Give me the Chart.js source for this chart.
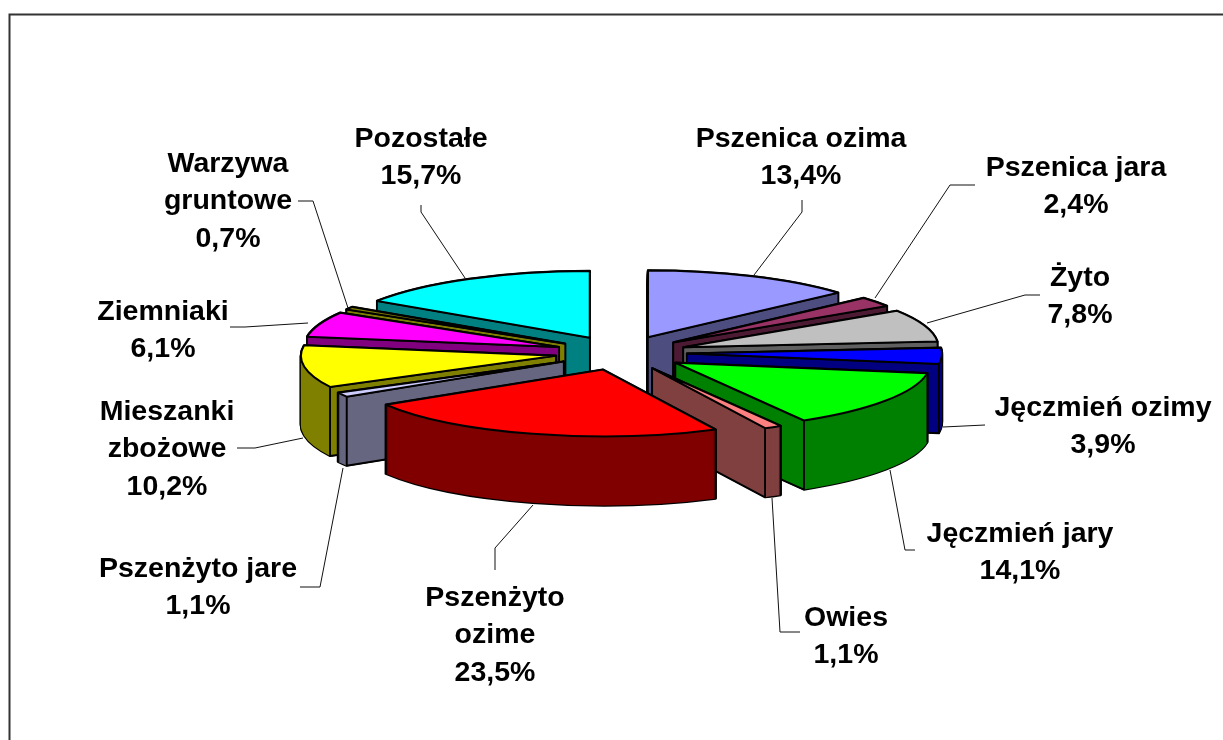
<!DOCTYPE html>
<html><head><meta charset="utf-8">
<style>html,body{margin:0;padding:0;background:#fff}#wrap{position:absolute;left:0;top:0;width:1223px;height:740px}</style>
<script src="https://cdn.jsdelivr.net/npm/chart.js@4"></script>
</head><body><div id="wrap"><canvas id="c" width="1223" height="740"></canvas></div>
<script>
const categories = ['Pszenica ozima','Pszenica jara','Żyto','Jęczmień ozimy','Jęczmień jary','Owies','Pszenżyto ozime','Pszenżyto jare','Mieszanki zbożowe','Ziemniaki','Warzywa gruntowe','Pozostałe'];
const shares = [13.4,2.4,7.8,3.9,14.1,1.1,23.5,1.1,10.2,6.1,0.7,15.7];
const topColors = ['#9999FF','#993366','#C0C0C0','#0000FF','#00FF00','#FF8080','#FF0000','#CCCCFF','#FFFF00','#FF00FF','#808000','#00FFFF'];
const sideColors = ['#4D4D80','#4D1A33','#606060','#000080','#008000','#804040','#800000','#666680','#808000','#800080','#808000','#008080'];

// Label layout: text lines, centre x, line centre y's, leader polyline
const labelLines = [['Pszenica ozima'],['Pszenica jara'],['Żyto'],['Jęczmień ozimy'],['Jęczmień jary'],['Owies'],['Pszenżyto','ozime'],['Pszenżyto jare'],['Mieszanki','zbożowe'],['Ziemniaki'],['Warzywa','gruntowe'],['Pozostałe']];
const labelX = [801,1076,1080,1103,1020,846,495,198,167,163,228,421];
const labelY = [139,168,278,408,534,618,598,569,412,312,164,139];
const leaders = [
 [[802,200],[802,212],[754,275]],
 [[975,185],[950,185],[875,298]],
 [[1040,295],[1025,295],[927,323]],
 [[985,425],[943,427]],
 [[915,550],[905,550],[890,470]],
 [[800,632],[780,632],[772,498]],
 [[495,570],[495,548],[533,505]],
 [[300,587],[320,587],[343,468]],
 [[237,448],[255,448],[303,438]],
 [[230,327],[245,327],[308,323]],
 [[298,201],[313,201],[348,308]],
 [[421,205],[421,212],[465,278]]
];
const SQUASH = 0.262, EXPLODE = 66, DEPTH = 69, RADIUS = 255, LINE_H = 37.5;
const FONT = 'bold 28.5px "Liberation Sans", Arial, sans-serif';

function pctText(v){ return v.toFixed(1).replace('.',',') + '%'; }

const pie3d = {
  id:'pie3d',
  beforeDraw(chart){
    const {ctx} = chart;
    ctx.save();
    ctx.fillStyle='#fff'; ctx.fillRect(0,0,1223,740);
    ctx.strokeStyle='#333'; ctx.lineWidth=2;
    ctx.beginPath(); ctx.moveTo(9.5,740); ctx.lineTo(9.5,14.5); ctx.lineTo(1223,14.5); ctx.stroke();
    ctx.restore();
  },
  beforeDatasetDraw(chart,args){
    const ctx = chart.ctx;
    const arcs = chart.getDatasetMeta(args.index).data.map((a,i)=>({a,i,mid:(a.startAngle+a.endAngle)/2}));
    arcs.sort((p,q)=>Math.sin(p.mid)-Math.sin(q.mid));
    const CY = 353;
    const project = (a,mid,d)=>{
      ctx.translate(a.x, CY+d);
      ctx.scale(1,SQUASH);
      ctx.translate(Math.cos(mid)*EXPLODE, Math.sin(mid)*EXPLODE);
      ctx.translate(-a.x,-a.y);
    };
    const tracePath = (a,mid,d)=>{
      ctx.save(); project(a,mid,d);
      ctx.beginPath(); ctx.moveTo(a.x,a.y); ctx.arc(a.x,a.y,a.outerRadius,a.startAngle,a.endAngle); ctx.closePath();
      ctx.restore();
    };
    const scr = (a,mid,ang,r)=>({
      x:a.x+Math.cos(mid)*EXPLODE+Math.cos(ang)*r,
      y:CY+SQUASH*(Math.sin(mid)*EXPLODE+Math.sin(ang)*r)
    });
    for(const {a,i,mid} of arcs){
      const base = a.options;
      // silhouette
      ctx.save();
      ctx.strokeStyle='#000'; ctx.lineWidth=2.4; ctx.lineJoin='round';
      for(let d=DEPTH;d>=0;d-=1){ tracePath(a,mid,d); ctx.stroke(); }
      ctx.restore();
      // walls
      a.options = Object.assign({},base,{backgroundColor:sideColors[i],borderWidth:0});
      for(let d=DEPTH;d>=1;d-=1){ ctx.save(); project(a,mid,d); a.draw(ctx); ctx.restore(); }
      // cut faces and corner edges
      const R=a.outerRadius, apex=scr(a,mid,0,0), s=scr(a,mid,a.startAngle,R), e=scr(a,mid,a.endAngle,R);
      const faceS = Math.sin(a.startAngle-Math.PI/2)>0, faceE = Math.sin(a.endAngle+Math.PI/2)>0;
      ctx.save(); ctx.strokeStyle='#000'; ctx.lineWidth=1.6; ctx.lineJoin='round'; ctx.fillStyle=sideColors[i];
      const quad=(p)=>{
        ctx.beginPath(); ctx.moveTo(apex.x,apex.y); ctx.lineTo(p.x,p.y); ctx.lineTo(p.x,p.y+DEPTH); ctx.lineTo(apex.x,apex.y+DEPTH); ctx.closePath();
        ctx.fill(); ctx.stroke();
      };
      if(faceS) quad(s);
      if(faceE) quad(e);
      for(const [p,show] of [[s,Math.sin(a.startAngle)>0],[e,Math.sin(a.endAngle)>0]]){
        if(show){ ctx.beginPath(); ctx.moveTo(p.x,p.y); ctx.lineTo(p.x,p.y+DEPTH); ctx.stroke(); }
      }
      ctx.restore();
      // top face
      a.options = Object.assign({},base,{backgroundColor:topColors[i],borderWidth:0});
      ctx.save(); project(a,mid,0); a.draw(ctx); ctx.restore();
      a.options = base;
      tracePath(a,mid,0);
      ctx.save(); ctx.strokeStyle='#000'; ctx.lineWidth=2; ctx.lineJoin='round'; ctx.stroke(); ctx.restore();
    }
    return false;
  },
  afterDatasetsDraw(chart){
    const ctx = chart.ctx;
    ctx.save();
    ctx.strokeStyle='#111'; ctx.lineWidth=1;
    leaders.forEach(pts=>{
      ctx.beginPath(); pts.forEach((p,j)=> j?ctx.lineTo(p[0],p[1]):ctx.moveTo(p[0],p[1])); ctx.stroke();
    });
    ctx.fillStyle='#000'; ctx.font=FONT; ctx.textAlign='center'; ctx.textBaseline='middle';
    categories.forEach((c,i)=>{
      const lines=[...labelLines[i],pctText(shares[i])];
      lines.forEach((t,j)=>ctx.fillText(t,labelX[i],labelY[i]+j*LINE_H));
    });
    ctx.restore();
  }
};

new Chart(document.getElementById('c'),{
  type:'pie',
  data:{labels:categories,datasets:[{data:shares,backgroundColor:topColors,borderWidth:0}]},
  options:{
    responsive:false,animation:false,radius:RADIUS,
    layout:{padding:{left:19}},
    plugins:{legend:{display:false},tooltip:{enabled:false},title:{display:false}}
  },
  plugins:[pie3d]
});
</script></body></html>
